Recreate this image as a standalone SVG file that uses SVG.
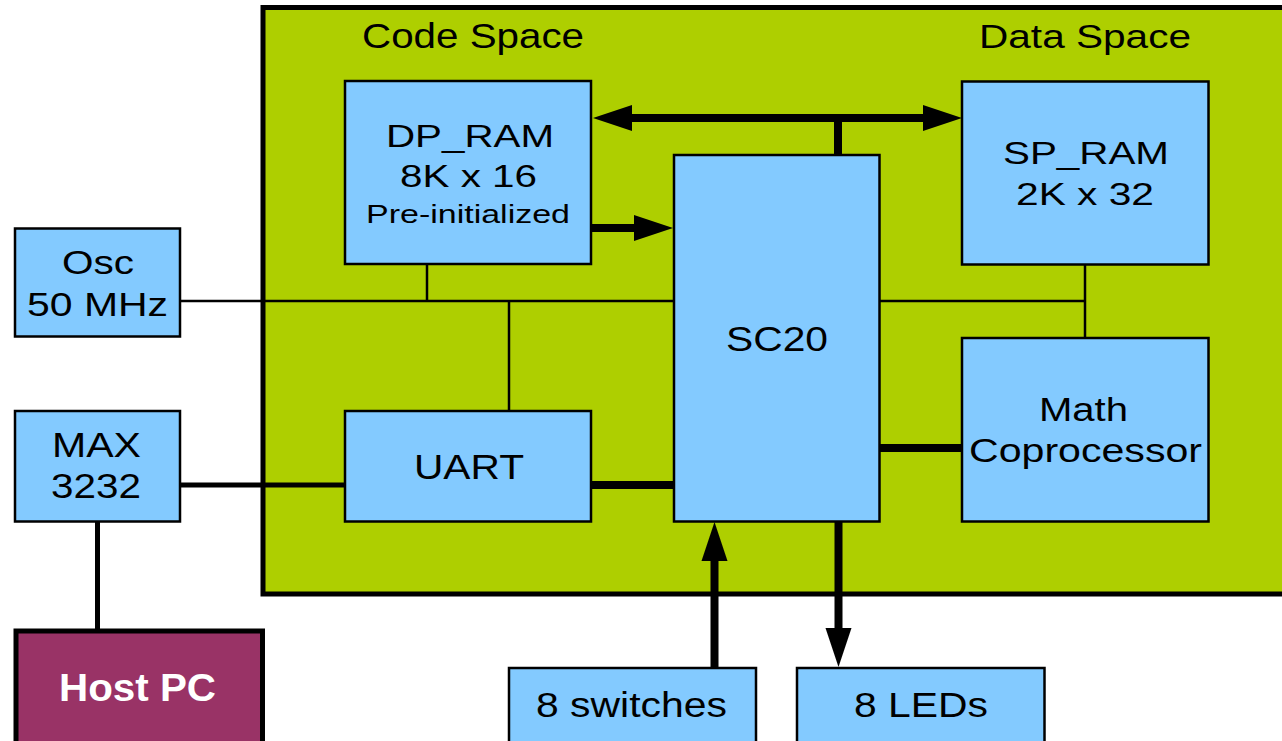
<svg xmlns="http://www.w3.org/2000/svg" width="1282" height="741" viewBox="0 0 1282 741">
<style>
.box{fill:#83caff;stroke:#000;stroke-width:2.5}
.host{fill:#993366;stroke:#000;stroke-width:5}
.t{font-family:"Liberation Sans",Arial,sans-serif;fill:#000}
.tw{font-family:"Liberation Sans",Arial,sans-serif;fill:#fff;font-weight:bold}
.thin{stroke:#000;stroke-width:2.5;fill:none}
.mid{stroke:#000;stroke-width:5;fill:none}
.thick{stroke:#000;stroke-width:8;fill:none}
</style>
<defs>
<marker id="ah" markerUnits="userSpaceOnUse" markerWidth="40" markerHeight="28" refX="0" refY="13" orient="auto-start-reverse" viewBox="0 0 40 26">
<path d="M0,0 L39,13 L0,26 z" fill="#000"/>
</marker>
</defs>
<rect id="fpga" x="263" y="7.5" width="1030" height="586.5" fill="#aecf00" stroke="#000" stroke-width="5"/>
<text class="t" x="362" y="48" font-size="35" textLength="222" lengthAdjust="spacingAndGlyphs">Code Space</text>
<text class="t" x="979" y="48" font-size="34" textLength="212" lengthAdjust="spacingAndGlyphs">Data Space</text>
<g id="connectors">
<line class="thin" x1="180" y1="301" x2="674" y2="301"/>
<line class="thin" x1="427" y1="264" x2="427" y2="301"/>
<line class="thin" x1="509" y1="301" x2="509" y2="411"/>
<line class="thin" x1="879" y1="301" x2="1085" y2="301"/>
<line class="thin" x1="1085" y1="264" x2="1085" y2="338"/>
<line class="mid" x1="180" y1="485" x2="345" y2="485"/>
<line class="mid" x1="97.5" y1="521" x2="97.5" y2="630"/>
<line class="thick" x1="591" y1="485" x2="674" y2="485"/>
<line class="thick" x1="879" y1="448" x2="962" y2="448"/>
<line class="thick" x1="838" y1="118" x2="838" y2="155"/>
<line class="thick" x1="632" y1="118" x2="923" y2="118" marker-start="url(#ah)" marker-end="url(#ah)"/>
<line class="thick" x1="591" y1="228" x2="634" y2="228" marker-end="url(#ah)"/>
<line class="thick" x1="714.5" y1="668" x2="714.5" y2="561" marker-end="url(#ah)"/>
<line class="thick" x1="838.5" y1="521" x2="838.5" y2="628" marker-end="url(#ah)"/>
</g>
<g id="dp_ram">
<rect class="box" x="345" y="81" width="246" height="183"/>
<text class="t" x="386" y="147" font-size="32" textLength="168" lengthAdjust="spacingAndGlyphs">DP_RAM</text>
<text class="t" x="400" y="187" font-size="31" textLength="137" lengthAdjust="spacingAndGlyphs">8K x 16</text>
<text class="t" x="366" y="223" font-size="26" textLength="204" lengthAdjust="spacingAndGlyphs">Pre-initialized</text>
</g>
<g id="sc20">
<rect class="box" x="674" y="155" width="205.5" height="366.5"/>
<text class="t" x="726" y="351" font-size="35" textLength="102" lengthAdjust="spacingAndGlyphs">SC20</text>
</g>
<g id="sp_ram">
<rect class="box" x="962" y="81.5" width="246.5" height="183"/>
<text class="t" x="1003" y="164" font-size="32" textLength="166" lengthAdjust="spacingAndGlyphs">SP_RAM</text>
<text class="t" x="1016" y="205" font-size="32" textLength="138" lengthAdjust="spacingAndGlyphs">2K x 32</text>
</g>
<g id="math">
<rect class="box" x="962" y="338" width="246.5" height="183.5"/>
<text class="t" x="1039" y="421" font-size="34" textLength="89" lengthAdjust="spacingAndGlyphs">Math</text>
<text class="t" x="969" y="462" font-size="34" textLength="233" lengthAdjust="spacingAndGlyphs">Coprocessor</text>
</g>
<g id="uart">
<rect class="box" x="345" y="411" width="246" height="110.5"/>
<text class="t" x="414" y="479" font-size="35" textLength="110" lengthAdjust="spacingAndGlyphs">UART</text>
</g>
<g id="osc">
<rect class="box" x="15" y="228.5" width="165" height="108"/>
<text class="t" x="62" y="274" font-size="34" textLength="72" lengthAdjust="spacingAndGlyphs">Osc</text>
<text class="t" x="27" y="316" font-size="33" textLength="141" lengthAdjust="spacingAndGlyphs">50 MHz</text>
</g>
<g id="max3232">
<rect class="box" x="15" y="411" width="165" height="110.5"/>
<text class="t" x="52" y="457" font-size="35" textLength="89" lengthAdjust="spacingAndGlyphs">MAX</text>
<text class="t" x="51" y="498" font-size="35" textLength="90" lengthAdjust="spacingAndGlyphs">3232</text>
</g>
<g id="host_pc">
<rect class="host" x="16" y="631" width="246.5" height="120"/>
<text class="tw" x="59" y="701" font-size="38" textLength="157" lengthAdjust="spacingAndGlyphs">Host PC</text>
</g>
<g id="switches">
<rect class="box" x="509" y="668" width="247" height="80"/>
<text class="t" x="536" y="717" font-size="35" textLength="191" lengthAdjust="spacingAndGlyphs">8 switches</text>
</g>
<g id="leds">
<rect class="box" x="797" y="668" width="247.5" height="80"/>
<text class="t" x="854" y="717" font-size="35" textLength="134" lengthAdjust="spacingAndGlyphs">8 LEDs</text>
</g>
</svg>
